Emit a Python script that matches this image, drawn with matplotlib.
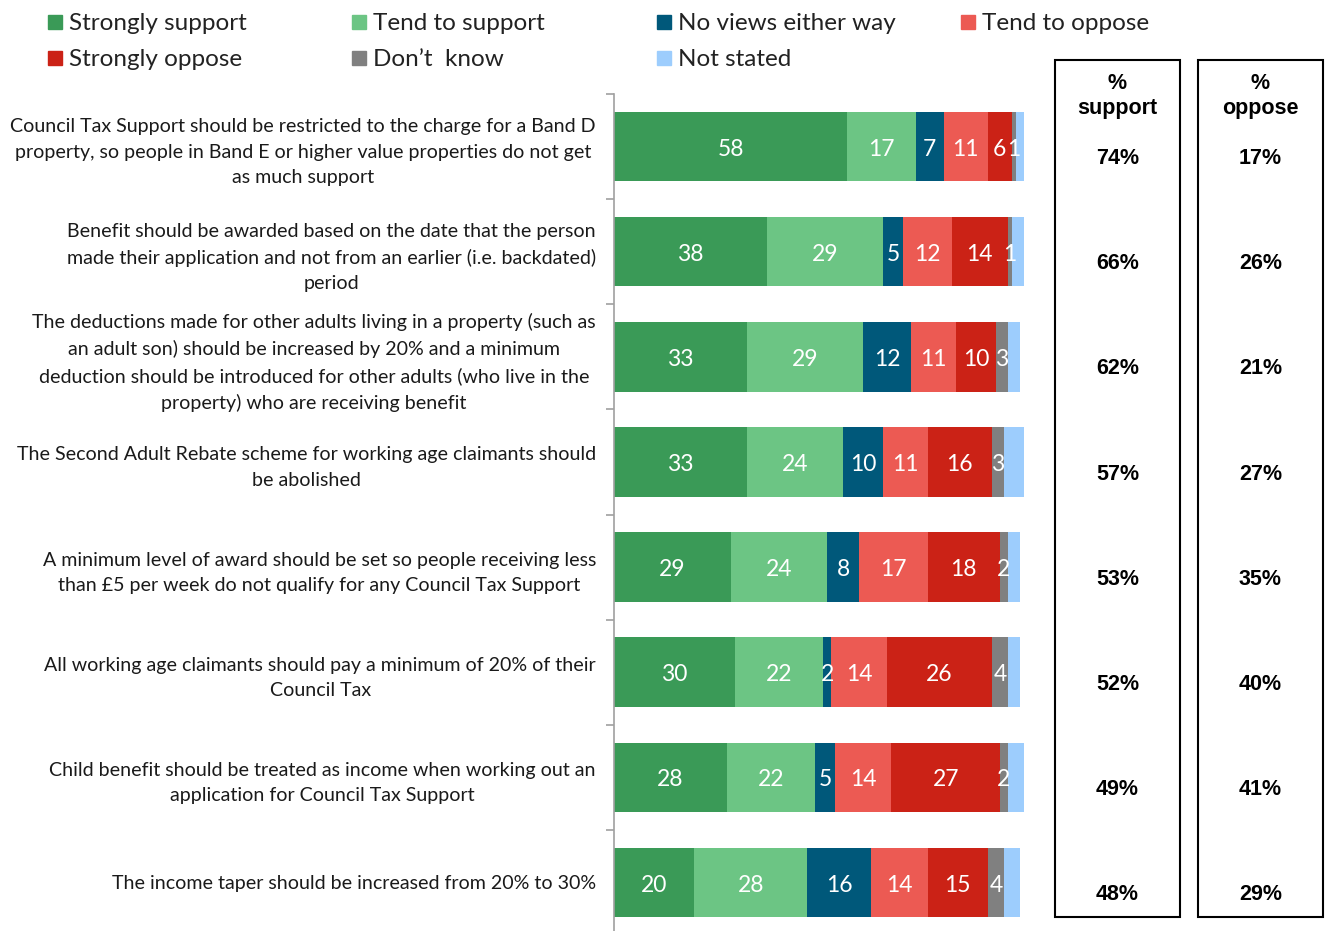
import matplotlib
matplotlib.use("Agg")
import matplotlib.pyplot as plt
from matplotlib.patches import Rectangle
import numpy as np

plt.rcParams['font.family'] = ['Lato', 'DejaVu Sans']

statements = [
    "Council Tax Support should be restricted to the charge for a Band D\nproperty, so people in Band E or higher value properties do not get\nas much support",
    "Benefit should be awarded based on the date that the person\nmade their application and not from an earlier (i.e. backdated)\nperiod",
    "The deductions made for other adults living in a property (such as\nan adult son) should be increased by 20% and a minimum\ndeduction should be introduced for other adults (who live in the\nproperty) who are receiving benefit",
    "The Second Adult Rebate scheme for working age claimants should\nbe abolished",
    "A minimum level of award should be set so people receiving less\nthan £5 per week do not qualify for any Council Tax Support",
    "All working age claimants should pay a minimum of 20% of their\nCouncil Tax",
    "Child benefit should be treated as income when working out an\napplication for Council Tax Support",
    "The income taper should be increased from 20% to 30%",
]

series_names = ["Strongly support", "Tend to support", "No views either way",
                "Tend to oppose", "Strongly oppose", "Don\u2019t  know", "Not stated"]
strongly_support = [58, 38, 33, 33, 29, 30, 28, 20]
tend_support = [17, 29, 29, 24, 24, 22, 22, 28]
no_views = [7, 5, 12, 10, 8, 2, 5, 16]
tend_oppose = [11, 12, 11, 11, 17, 14, 14, 14]
strongly_oppose = [6, 14, 10, 16, 18, 26, 27, 15]
dont_know = [1, 1, 3, 3, 2, 4, 2, 4]
not_stated = [2, 3, 3, 5, 3, 3, 4, 4]
pct_support = [74, 66, 62, 57, 53, 52, 49, 48]
pct_oppose = [17, 26, 21, 27, 35, 40, 41, 29]

colors = ["#3A9A57", "#6CC584", "#00587A", "#EC5A53", "#CB2216", "#808080", "#9DCDFD"]
show_label = [True, True, True, True, True, True, False]

series = [strongly_support, tend_support, no_views, tend_oppose,
          strongly_oppose, dont_know, not_stated]

W, H = 1325, 931
fig = plt.figure(figsize=(W / 100, H / 100), dpi=100)

ax_left, ax_right = 614, 1036
ax_top, ax_bot = 94, 935
ax = fig.add_axes([ax_left / W, 1 - ax_bot / H, (ax_right - ax_left) / W, (ax_bot - ax_top) / H])
px_per_unit = 4.02
ax.set_xlim(0, (ax_right - ax_left) / px_per_unit)
n = len(statements)
y = np.arange(n)
ax.set_ylim(n - 0.5, -0.5)

left = np.zeros(n)
for name, vals, c, sl in zip(series_names, series, colors, show_label):
    vals = np.array(vals, dtype=float)
    ax.barh(y, vals, left=left, height=0.66, color=c, label=name)
    if sl:
        for yi, l, v in zip(y, left, vals):
            ax.text(l + v / 2, yi + 0.025, f"{int(v)}", ha="center", va="center",
                    color="white", fontsize=16.5)
    left += vals

for s in ["top", "right", "bottom"]:
    ax.spines[s].set_visible(False)
ax.spines["left"].set_color("#A0A0A0")
ax.spines["left"].set_linewidth(1.2)
ax.set_xticks([])
ax.set_yticks(y)
ax.set_yticklabels(statements, fontsize=14.1, multialignment="center",
                   color="#1a1a1a", linespacing=1.6)
ax.tick_params(axis="y", length=0, pad=13)
ax.set_yticks(np.arange(-0.5, n, 1.0), minor=True)
ax.tick_params(axis="y", which="minor", length=6, color="#A0A0A0", width=1.2)

# legend (row-major, drawn at fixed positions)
leg_x = [48, 352, 657, 961]
leg_y = [22, 58]
for i, (name, c) in enumerate(zip(series_names, colors)):
    r, col = divmod(i, 4)
    xs, ys = leg_x[col], leg_y[r]
    sq = 14
    fig.patches.append(Rectangle((xs / W, 1 - (ys + sq / 2) / H), sq / W, sq / H,
                                 transform=fig.transFigure, color=c))
    fig.text((xs + 21) / W, 1 - (ys + 1) / H, name, ha="left", va="center",
             fontsize=17.5, color="#222222")

# boxes on the right
box_top, box_bot = 60, 917
for (x0, x1, head, vals) in [(1055, 1180, "%\nsupport", pct_support),
                              (1198, 1323, "%\noppose", pct_oppose)]:
    fig.patches.append(Rectangle((x0 / W, 1 - box_bot / H), (x1 - x0) / W,
                                 (box_bot - box_top) / H, transform=fig.transFigure,
                                 fill=False, edgecolor="black", linewidth=1.5))
    cx = (x0 + x1) / 2 / W
    fig.text(cx, 1 - 96 / H, head, ha="center", va="center", fontsize=15.5,
             fontweight="bold", family="Liberation Sans", linespacing=1.3)
    for yi, v in zip(y, vals):
        ypix = ax.transData.transform((0, yi + 0.115))[1]
        fig.text(cx, ypix / H, f"{v}%", ha="center", va="center", fontsize=15.5,
                 fontweight="bold", family="Liberation Sans")

fig.savefig("out.png", dpi=100)
